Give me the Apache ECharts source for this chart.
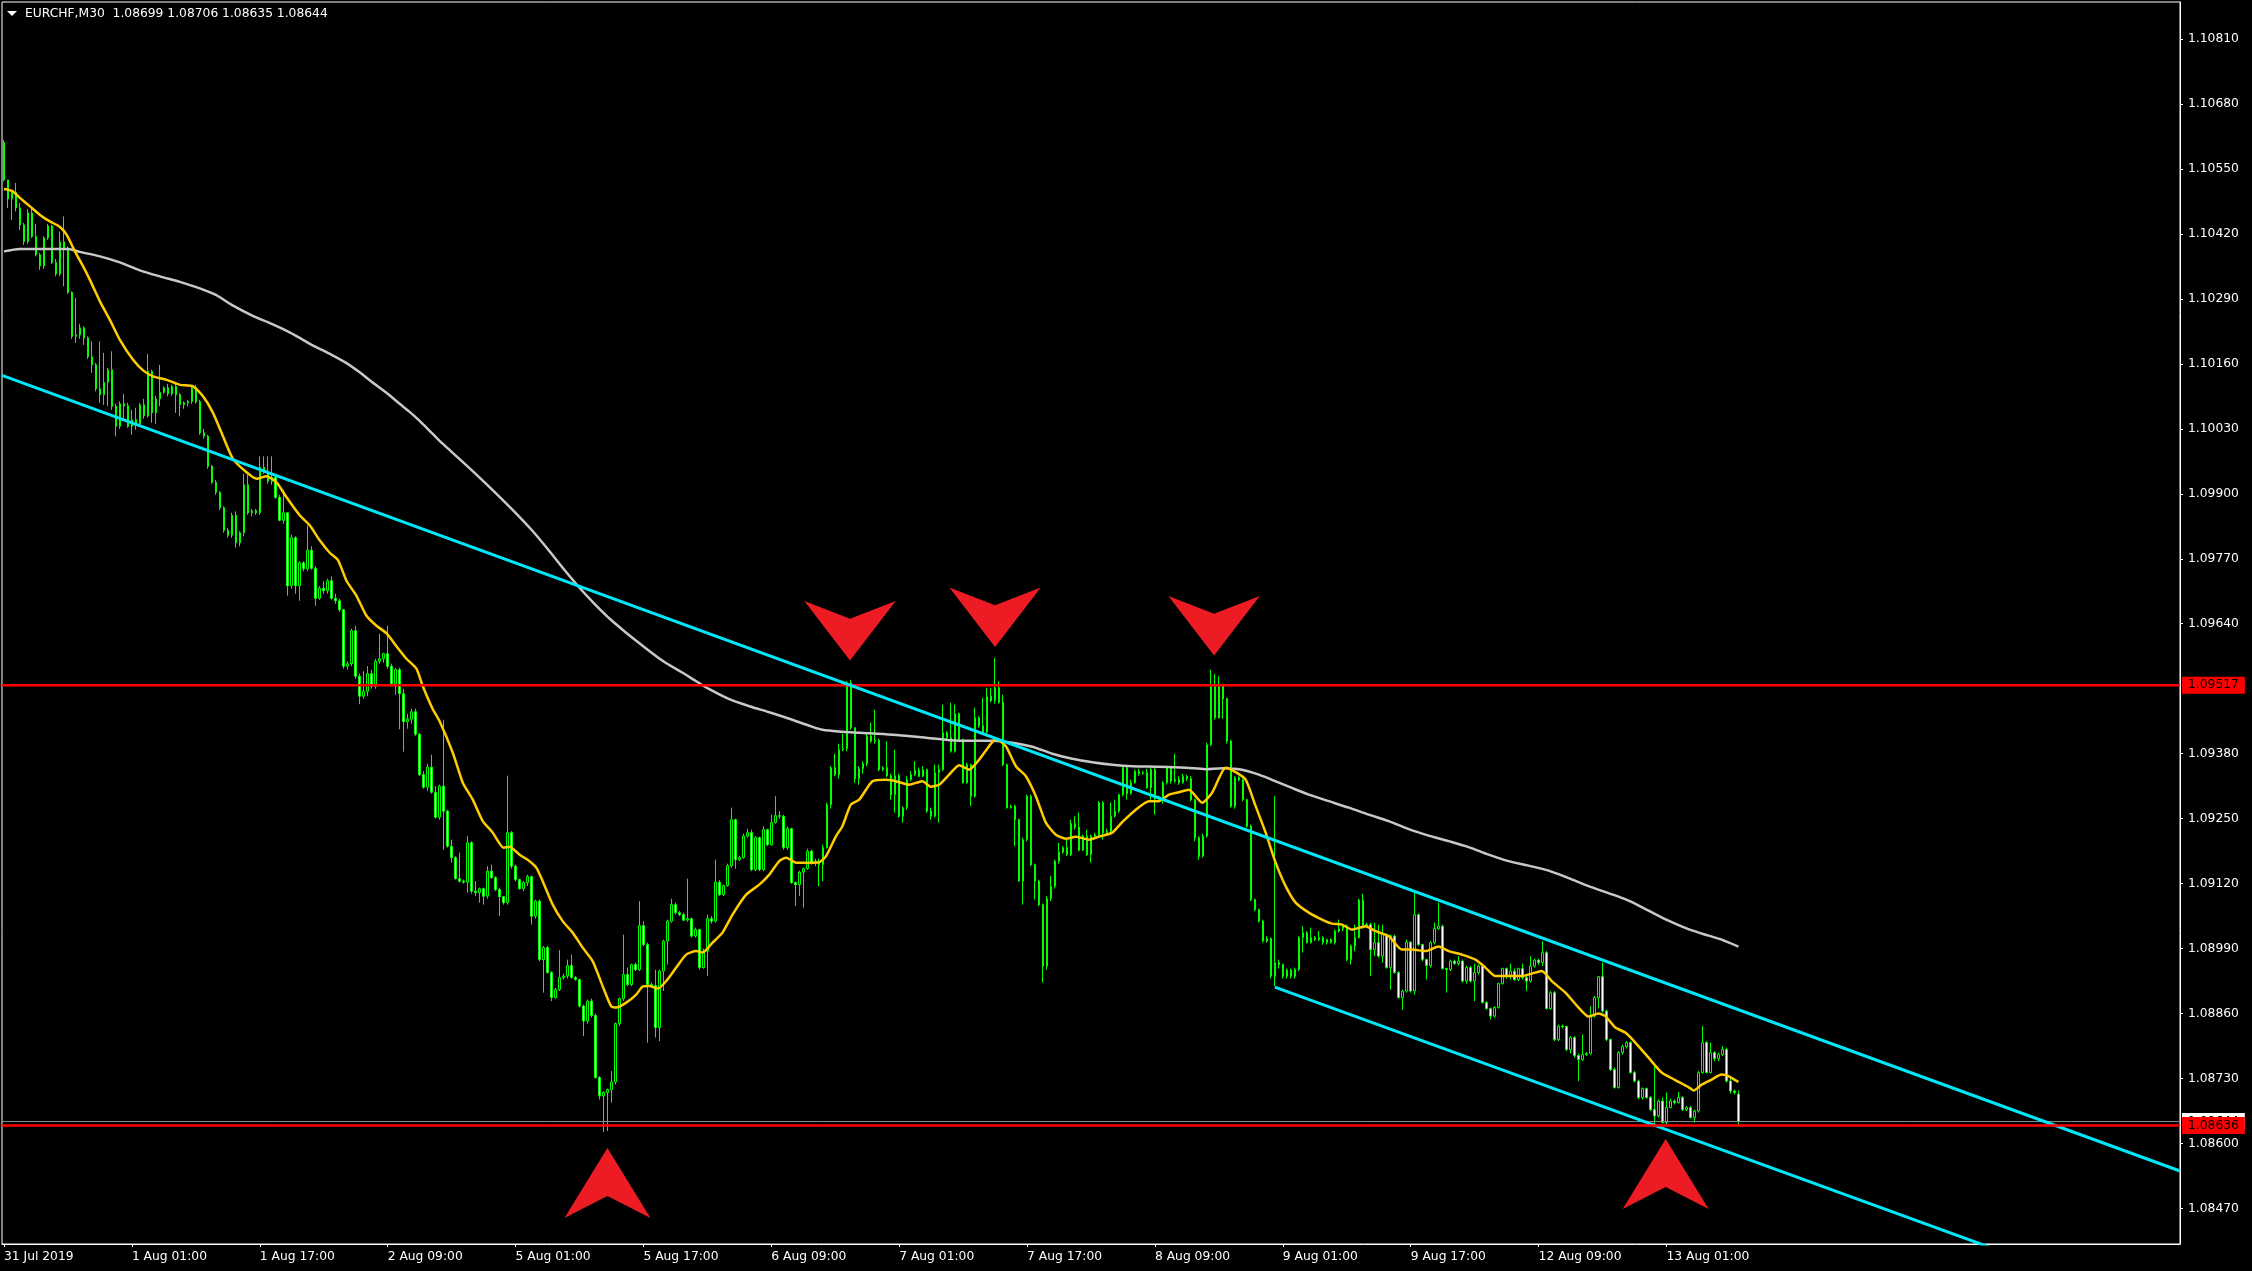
<!DOCTYPE html>
<html><head><meta charset="utf-8">
<script src="https://cdn.jsdelivr.net/npm/echarts@6/dist/echarts.min.js"></script>
<style>html,body{margin:0;padding:0;background:#000;}#c{width:2252px;height:1271px;}</style>
</head><body><div id="c"></div>
<script>
// prices stored as points above 1.08000 (1 point = 0.00001)
const BASE = 108000;
const symbolName = 'EURCHF,M30';
const opens = [
2603,2528,2490,2503,2472,2438,2405,2462,2415,2378,
2356,2412,2436,2363,2340,2404,2392,2303,2215,2218,
2232,2212,2174,2158,2110,2098,2123,2148,2075,2035,
2080,2076,2035,2048,2040,2078,2056,2145,2062,2090,
2103,2112,2100,2115,2098,2078,2082,2085,2112,2084,
2022,2015,1955,1923,1903,1872,1827,1817,1857,1802,
1822,1918,1862,1866,1862,1953,1943,1925,1933,1893,
1847,1862,1716,1812,1716,1762,1750,1787,1751,1691,
1711,1706,1726,1691,1686,1668,1555,1560,1626,1535,
1495,1505,1540,1515,1565,1570,1580,1555,1520,1548,
1500,1444,1449,1464,1419,1338,1313,1353,1303,1253,
1315,1265,1195,1172,1130,1125,1123,1202,1105,1102,
1110,1095,1145,1132,1108,1094,1082,1222,1155,1128,
1110,1122,1134,1055,1085,968,992,942,892,908,
932,935,956,932,928,875,845,885,856,732,
695,702,708,723,840,890,938,918,958,948,
1036,998,918,916,832,945,1005,1045,1078,1062,
1058,1047,1050,1015,1028,952,985,1050,1045,1123,
1098,1116,1156,1248,1168,1172,1215,1222,1148,1212,
1148,1228,1198,1242,1256,1255,1192,1230,1122,1118,
1143,1150,1185,1162,1165,1158,1192,1278,1352,1338,
1388,1390,1522,1432,1330,1350,1360,1415,1405,1407,
1348,1352,1336,1298,1336,1255,1272,1328,1338,1347,
1335,1348,1265,1255,1342,1348,1422,1412,1385,1460,
1408,1322,1358,1295,1452,1436,1423,1495,1486,1512,
1483,1358,1272,1275,1248,1125,1208,1295,1158,1125,
1078,955,1090,1115,1165,1183,1192,1178,1240,1233,
1187,1215,1178,1215,1218,1282,1222,1225,1255,1265,
1298,1352,1300,1322,1345,1340,1342,1312,1348,1290,
1292,1322,1352,1325,1328,1322,1335,1330,1288,1212,
1175,1215,1398,1515,1452,1515,1490,1405,1275,1332,
1328,1288,1235,1088,1068,1045,1005,1010,935,962,
958,935,947,935,948,1012,1022,1002,1012,1008,
1012,1002,1008,1002,1025,1030,1035,968,995,1012,
1087,1035,1038,988,1002,975,1018,952,1015,942,
892,905,1003,905,1058,998,968,956,1002,1030,
1035,950,948,965,960,965,925,952,925,942,
955,882,870,855,872,920,950,934,945,928,
950,932,925,955,967,962,982,870,902,808,
835,834,788,812,776,768,778,780,855,892,
934,865,808,748,712,782,794,802,742,725,
692,710,692,668,655,685,642,672,685,682,
692,668,672,652,665,742,802,742,782,770,
778,788,725,705,699];
const closes = [
2528,2490,2503,2472,2438,2405,2462,2415,2378,2356,
2412,2436,2363,2340,2404,2392,2303,2215,2218,2232,
2212,2174,2158,2110,2098,2123,2148,2075,2035,2080,
2076,2035,2048,2040,2078,2056,2145,2062,2090,2103,
2112,2100,2115,2098,2078,2082,2085,2112,2084,2022,
2015,1955,1923,1903,1872,1827,1817,1857,1802,1822,
1918,1862,1866,1862,1953,1943,1925,1933,1893,1847,
1862,1716,1812,1716,1762,1750,1787,1751,1691,1711,
1706,1726,1691,1686,1668,1555,1560,1626,1535,1495,
1505,1540,1515,1565,1570,1580,1555,1520,1548,1500,
1444,1449,1464,1419,1338,1313,1353,1303,1253,1315,
1265,1195,1172,1130,1125,1123,1202,1105,1102,1110,
1095,1145,1132,1108,1094,1082,1222,1155,1128,1110,
1122,1134,1055,1085,968,992,942,892,908,932,
935,956,932,928,875,845,885,856,732,695,
702,708,723,840,890,938,918,958,948,1036,
998,918,916,832,945,1005,1045,1078,1062,1058,
1047,1050,1015,1028,952,985,1050,1045,1123,1098,
1116,1156,1248,1168,1172,1215,1222,1148,1212,1148,
1228,1198,1242,1256,1255,1192,1230,1122,1118,1143,
1150,1185,1162,1165,1158,1192,1278,1352,1338,1388,
1390,1522,1432,1330,1350,1360,1415,1405,1407,1348,
1352,1336,1298,1336,1255,1272,1328,1338,1347,1335,
1348,1265,1255,1342,1348,1422,1412,1385,1460,1408,
1322,1358,1295,1452,1436,1423,1495,1486,1512,1483,
1358,1272,1275,1248,1125,1208,1295,1158,1125,1078,
955,1090,1115,1165,1183,1192,1178,1240,1233,1187,
1215,1178,1215,1218,1282,1222,1225,1255,1265,1298,
1352,1300,1322,1345,1340,1342,1312,1348,1290,1292,
1322,1352,1325,1328,1322,1335,1330,1288,1212,1175,
1215,1398,1515,1452,1515,1490,1405,1275,1332,1328,
1288,1235,1088,1068,1045,1005,1010,935,962,958,
935,947,935,948,1012,1022,1002,1012,1008,1012,
1002,1008,1002,1025,1030,1035,968,995,1012,1087,
1035,1038,988,1002,975,1018,952,1015,942,892,
905,1003,905,1058,998,968,956,1002,1030,1035,
950,948,965,960,965,925,952,925,942,955,
882,870,855,872,920,950,934,945,928,950,
932,925,955,967,962,982,870,902,808,835,
834,788,812,776,768,778,780,855,892,934,
865,808,748,712,782,794,802,742,725,692,
710,692,668,655,685,642,672,685,682,692,
668,672,652,665,742,802,742,782,770,778,
788,725,705,702,644];
const lows = [
2525,2472,2448,2465,2428,2398,2400,2412,2375,2348,
2350,2408,2360,2335,2335,2315,2300,2210,2202,2210,
2198,2170,2142,2105,2082,2078,2075,2068,2015,2030,
2048,2032,2018,2028,2035,2050,2052,2042,2040,2075,
2100,2095,2096,2062,2055,2070,2075,2080,2080,2018,
2010,1950,1920,1898,1868,1822,1812,1812,1792,1795,
1815,1858,1855,1858,1858,1940,1920,1918,1890,1845,
1840,1696,1710,1700,1686,1745,1745,1748,1676,1688,
1700,1700,1688,1680,1664,1550,1548,1555,1530,1479,
1490,1495,1510,1510,1560,1562,1550,1515,1498,1429,
1384,1430,1440,1415,1335,1310,1305,1300,1250,1248,
1188,1192,1162,1128,1122,1120,1102,1100,1095,1082,
1078,1090,1130,1105,1055,1078,1078,1150,1125,1108,
1105,1115,1038,1050,965,902,940,885,890,905,
928,930,930,926,872,815,840,852,730,688,
623,625,682,718,835,885,915,915,945,945,
995,802,912,812,805,905,958,1042,1058,1055,
1045,1044,1012,1012,948,950,935,1040,1042,1095,
1095,1114,1152,1150,1165,1170,1212,1145,1145,1145,
1145,1195,1196,1240,1250,1188,1188,1120,1075,1095,
1072,1148,1158,1155,1115,1125,1190,1270,1335,1330,
1385,1385,1428,1322,1318,1340,1355,1402,1400,1345,
1345,1333,1288,1262,1252,1242,1268,1325,1335,1333,
1333,1262,1248,1252,1242,1345,1408,1382,1382,1405,
1320,1320,1275,1292,1432,1420,1420,1483,1480,1480,
1355,1270,1270,1195,1125,1078,1205,1155,1088,1075,
922,948,1085,1110,1160,1180,1175,1175,1228,1185,
1185,1175,1162,1212,1215,1208,1220,1222,1252,1262,
1295,1288,1298,1320,1336,1338,1310,1288,1258,1286,
1280,1318,1320,1322,1318,1320,1325,1285,1205,1168,
1172,1212,1395,1448,1450,1450,1400,1272,1270,1325,
1285,1232,1085,1065,1042,1002,1002,930,915,950,
930,930,930,930,945,982,1000,1000,1005,1005,
998,998,1000,998,1022,1025,965,958,985,1010,
1030,1032,935,975,972,962,950,908,940,890,
868,902,902,898,995,965,928,952,998,1028,
948,902,945,958,956,922,920,922,885,938,
880,868,848,852,870,918,930,928,925,925,
928,905,922,952,958,955,868,868,805,805,
830,785,780,772,725,765,775,778,852,870,
862,805,745,710,710,778,790,740,722,688,
688,690,665,635,652,640,635,670,678,680,
665,665,650,642,662,740,740,740,765,765,
775,722,700,698,635];
const highs = [
2608,2528,2508,2522,2482,2442,2470,2470,2440,2382,
2415,2440,2438,2370,2425,2455,2395,2305,2292,2240,
2235,2215,2205,2162,2205,2182,2152,2185,2080,2085,
2100,2082,2068,2072,2082,2090,2180,2148,2096,2158,
2115,2120,2118,2120,2102,2085,2088,2115,2118,2088,
2030,2018,1958,1928,1905,1875,1832,1862,1865,1825,
1940,1938,1870,1870,1975,1975,1975,1975,1935,1898,
1908,1862,1818,1815,1765,1765,1837,1795,1755,1715,
1725,1730,1735,1700,1690,1670,1565,1630,1636,1540,
1545,1555,1548,1570,1620,1582,1636,1560,1552,1552,
1510,1460,1470,1470,1422,1345,1360,1378,1315,1318,
1448,1268,1208,1175,1182,1128,1215,1205,1125,1112,
1112,1155,1158,1135,1112,1095,1336,1225,1158,1130,
1125,1138,1136,1088,1088,995,995,945,912,987,
940,968,978,935,930,878,888,890,860,735,
705,710,745,842,892,1018,952,960,962,1085,
1045,1002,922,948,948,1008,1048,1090,1082,1065,
1062,1130,1052,1032,1030,990,1058,1055,1168,1127,
1118,1160,1272,1250,1176,1220,1230,1228,1215,1214,
1235,1230,1258,1295,1265,1258,1235,1232,1124,1146,
1152,1190,1188,1170,1170,1198,1282,1355,1380,1400,
1420,1525,1528,1432,1355,1365,1420,1442,1468,1410,
1355,1405,1340,1388,1340,1275,1335,1345,1365,1352,
1355,1350,1272,1358,1358,1478,1425,1482,1478,1462,
1410,1362,1360,1472,1455,1492,1512,1512,1572,1525,
1498,1360,1278,1278,1250,1212,1298,1298,1160,1128,
1080,1095,1135,1168,1202,1195,1208,1248,1255,1262,
1218,1228,1218,1222,1285,1285,1230,1282,1288,1300,
1355,1355,1328,1348,1350,1345,1350,1352,1355,1296,
1325,1356,1355,1380,1335,1340,1338,1335,1290,1215,
1220,1402,1548,1540,1535,1520,1492,1408,1335,1335,
1330,1290,1238,1090,1070,1048,1015,1012,1295,968,
960,950,950,952,1015,1035,1025,1032,1015,1025,
1015,1010,1010,1028,1048,1038,1038,998,1038,1090,
1100,1042,1042,1042,1038,1038,1020,1018,1018,945,
908,1008,1005,1102,1060,1000,970,1005,1042,1082,
1038,952,968,968,975,968,956,955,960,958,
958,885,872,875,922,952,952,960,950,952,
960,935,975,970,970,1005,985,905,905,838,
838,836,815,815,780,818,783,875,895,935,
962,868,810,752,785,798,805,805,745,728,
712,712,695,755,688,692,702,690,688,703,
695,675,675,668,745,835,805,802,785,782,
795,792,732,708,706];

// moving averages: [bar index, points]
const fastMA = [[0,2510],[2,2506],[4,2492],[6.5,2475],[9,2458],[11.5,2445],[14,2434],[15.7,2418],[17.75,2385],[19.8,2355],[21.5,2328],[24,2285],[26.5,2248],[29,2208],[32.3,2168],[34.8,2147],[37.3,2135],[40.7,2128],[44,2118],[47.3,2115],[49.8,2095],[52.3,2062],[54.8,2015],[57.3,1970],[60.7,1943],[63.2,1930],[65.7,1935],[68.2,1923],[70.7,1893],[74,1857],[76.5,1837],[79,1807],[81.5,1782],[83.6,1767],[85.7,1726],[88.2,1696],[90.7,1656],[93.2,1636],[95.7,1621],[98.2,1595],[100.7,1570],[103.2,1550],[104.8,1515],[107.3,1469],[109,1445],[112.3,1382],[114.8,1322],[117.3,1288],[119.8,1245],[122.3,1222],[125,1192],[126.5,1194],[129,1178],[131.5,1165],[133.2,1152],[134.8,1125],[137.3,1078],[139.8,1045],[142.3,1022],[144.8,992],[147.3,965],[149.8,915],[151.9,875],[153.2,872],[155.7,882],[158.2,898],[159.8,914],[161.5,915],[163.6,910],[165.7,925],[168.2,952],[170.7,978],[173.2,985],[174.8,982],[177.3,1002],[179.8,1022],[182.3,1058],[185.7,1098],[189,1118],[191.5,1138],[194,1165],[195.8,1172],[198.2,1162],[200.7,1162],[204,1163],[205.7,1175],[208.2,1215],[209.8,1235],[211.9,1278],[214,1288],[217.3,1325],[220.7,1328],[223.2,1325],[226.5,1318],[229.8,1325],[231.9,1314],[234,1318],[236.5,1338],[239,1357],[241.5,1348],[244,1368],[246.5,1395],[248.2,1410],[250.7,1395],[253.2,1355],[255.7,1335],[258.2,1295],[260.7,1242],[263.2,1218],[265.7,1210],[268.2,1214],[271.5,1208],[274,1214],[277.3,1222],[279.8,1243],[283.2,1268],[286.5,1285],[289,1285],[291.5,1298],[294,1303],[296.5,1308],[299.8,1282],[302.3,1302],[305.7,1352],[308.2,1343],[310.7,1328],[313.2,1275],[315.7,1222],[318.2,1162],[320.7,1115],[323.2,1082],[326.5,1062],[329.8,1048],[332.3,1040],[334.8,1038],[337.3,1028],[340.7,1035],[343.2,1025],[346.5,1015],[349.8,988],[352.3,988],[355.7,985],[359,994],[361.5,985],[364.8,978],[368.2,968],[370.7,952],[373.2,935],[376.5,935],[379.8,935],[383.2,942],[384.8,945],[387.3,925],[390.7,902],[394,872],[396.5,854],[399,860],[400.7,855],[403.2,832],[405.7,822],[408.2,802],[411.5,772],[414.8,742],[418.2,727],[421.5,713],[422.8,706],[424.8,718],[427.3,728],[429.8,738],[431.5,735],[434,723]];
const slowMA = [[0,2385],[4,2390],[16,2390],[19,2384],[24,2375],[29,2363],[34,2347],[39,2335],[44,2324],[49,2311],[53,2298],[57,2278],[62,2257],[67,2240],[71,2225],[74,2212],[77,2198],[82,2178],[86,2160],[89,2143],[92,2124],[96,2100],[99,2080],[101.5,2064],[104,2046],[106.5,2026],[109,2006],[112,1984],[116,1955],[120,1925],[124,1894],[128,1862],[132,1828],[136,1790],[140,1750],[144,1712],[148,1678],[152,1647],[156,1620],[158.2,1606],[164.8,1566],[169.8,1542],[173.2,1525],[176.5,1509],[181.5,1489],[186.5,1475],[191.5,1463],[196.5,1450],[201.5,1436],[204.8,1428],[209.8,1424],[214,1422],[222.3,1418],[230.7,1412],[239,1406],[247.3,1406],[252.3,1402],[257.3,1394],[262.3,1380],[267.3,1370],[272.3,1363],[277.3,1358],[282.3,1355],[289,1354],[295.7,1352],[300.7,1349],[304.8,1351],[309.8,1348],[314,1338],[319,1322],[321.5,1314],[326.5,1298],[331.5,1285],[336.5,1272],[341.5,1258],[346.5,1245],[351.5,1229],[356.5,1216],[361.5,1205],[366.5,1193],[371.5,1178],[376.5,1165],[381.5,1156],[386.5,1146],[391.5,1131],[396.5,1115],[401.5,1101],[406.5,1086],[411.5,1066],[416.5,1046],[421.5,1029],[426.5,1016],[429.8,1008],[434,994]];

// channel trend lines: [bar index, points]
const trendUpper = [[-0.5,2137],[544.5,545]];
const trendLower = [[318,913],[544.5,254]];
// horizontal levels
const resistance = 1.09517;
const support = 1.08636;
// arrows: [bar index, points at arrow centre]
const downArrows = [[211.7,1626],[248.0,1653],[302.8,1636]];
const upArrows = [[151.0,521],[415.8,539]];

const tickLabels = ['31 Jul 2019','1 Aug 01:00','1 Aug 17:00','2 Aug 09:00','5 Aug 01:00','5 Aug 17:00','6 Aug 09:00','7 Aug 01:00','7 Aug 17:00','8 Aug 09:00','9 Aug 01:00','9 Aug 17:00','12 Aug 09:00','13 Aug 01:00'];
const tickStep = 32;
const yTicks = [1.08470,1.08600,1.08730,1.08860,1.08990,1.09120,1.09250,1.09380,1.09640,1.09770,1.09900,1.10030,1.10160,1.10290,1.10420,1.10550,1.10680,1.10810];
const SLOTS = 545;

const P = v => (BASE + v) / 1e5;
const F = v => P(v).toFixed(5);
const last = opens.length - 1;
const bid = P(closes[last]);
const FONT = 'DejaVu Sans';
const FS = 12.3;

const cats = Array.from({length: SLOTS}, (_, i) => String(i));
const candles = opens.map((o, i) => [P(o), P(closes[i]), P(lows[i]), P(highs[i])]);
const showTick = (idx) => idx % tickStep === 0 && idx / tickStep < tickLabels.length;

const chart = echarts.init(document.getElementById('c'), null, {renderer: 'canvas'});
const hLine = (y, color, width, label, bg, z) => ({
  type: 'line', xAxisIndex: 1, yAxisIndex: 0, z: z, clip: false,
  data: [[-0.5, y], [SLOTS - 0.5, y]], showSymbol: false, silent: true,
  lineStyle: {color: color, width: width},
  endLabel: {show: true, formatter: label, backgroundColor: bg, color: '#000',
    fontFamily: FONT, fontSize: FS, padding: [2, 6, 1, 6], distance: 2, lineHeight: 14}
});
chart.setOption({
  animation: false,
  backgroundColor: '#000',
  grid: {left: 2, right: 72, top: 2, bottom: 27, show: true, borderColor: '#fff', borderWidth: 1, backgroundColor: '#000'},
  xAxis: [{
    type: 'category', data: cats, boundaryGap: true,
    axisLine: {onZero: false, lineStyle: {color: '#fff', width: 1}},
    axisTick: {show: true, interval: showTick, alignWithLabel: true, length: 3, lineStyle: {color: '#fff'}},
    axisLabel: {interval: showTick, formatter: (v, idx) => tickLabels[idx / tickStep], align: 'left', color: '#fff', fontFamily: FONT, fontSize: FS, margin: 7},
    splitLine: {show: false}
  }, {
    type: 'value', min: -0.5, max: SLOTS - 0.5, show: false, splitLine: {show: false},
    axisLine: {onZero: false}
  }],
  yAxis: [{
    type: 'value', position: 'right', min: 1.08399, max: 1.10884, scale: true,
    axisLine: {show: true, onZero: false, lineStyle: {color: '#fff', width: 1}},
    axisTick: {show: true, inside: false, length: 3, customValues: yTicks, lineStyle: {color: '#fff'}},
    axisLabel: {customValues: yTicks, formatter: v => v.toFixed(5), color: '#fff', fontFamily: FONT, fontSize: FS, margin: 8},
    splitLine: {show: false}
  }],
  graphic: [
    {type: 'polygon', shape: {points: [[7, 11], [17, 11], [12, 16]]}, style: {fill: '#fff'}},
    {type: 'text', x: 25, y: 14, style: {text: symbolName + '  ' + [opens[last], highs[last], lows[last], closes[last]].map(F).join(' '), fill: '#fff', font: FS + 'px ' + FONT, verticalAlign: 'middle'}}
  ],
  series: [
    {type: 'candlestick', xAxisIndex: 0, yAxisIndex: 0, data: candles, barWidth: 2, z: 2,
     itemStyle: {color: '#000', color0: '#fff', borderColor: '#00ff00', borderColor0: '#00ff00', borderWidth: 1}},
    {type: 'line', xAxisIndex: 1, data: slowMA.map(d => [d[0], P(d[1])]), showSymbol: false, smooth: 0.3, z: 3,
     lineStyle: {color: '#c8c8c8', width: 2.5}},
    {type: 'line', xAxisIndex: 1, data: fastMA.map(d => [d[0], P(d[1])]), showSymbol: false, smooth: 0.2, z: 4,
     lineStyle: {color: '#ffcc00', width: 2.5}},
    hLine(bid, '#8c8c8c', 1, () => bid.toFixed(5), '#fff', 5),
    hLine(resistance, '#ff0000', 2.5, () => resistance.toFixed(5), '#ff0000', 6),
    hLine(support, '#ff0000', 2.5, () => support.toFixed(5), '#ff0000', 20),
    {type: 'line', xAxisIndex: 1, data: trendUpper.map(d => [d[0], P(d[1])]), showSymbol: false, z: 8,
     lineStyle: {color: '#00e8f8', width: 3}},
    {type: 'line', xAxisIndex: 1, data: trendLower.map(d => [d[0], P(d[1])]), showSymbol: false, z: 8, clip: true,
     lineStyle: {color: '#00e8f8', width: 3}},
    {type: 'scatter', xAxisIndex: 1, data: downArrows.map(d => [d[0], P(d[1])]), z: 9, clip: false,
     symbol: 'path://M0,0 L45.7,17.6 L91.4,0 L45.7,59.3 Z', symbolSize: [91.4, 59.3], itemStyle: {color: '#ed1c24', opacity: 1}},
    {type: 'scatter', xAxisIndex: 1, data: upArrows.map(d => [d[0], P(d[1])]), z: 9, clip: false,
     symbol: 'path://M43,0 L86,70 L43,48 L0,70 Z', symbolSize: [86, 70], itemStyle: {color: '#ed1c24', opacity: 1}}
  ]
});
</script>
</body></html>
